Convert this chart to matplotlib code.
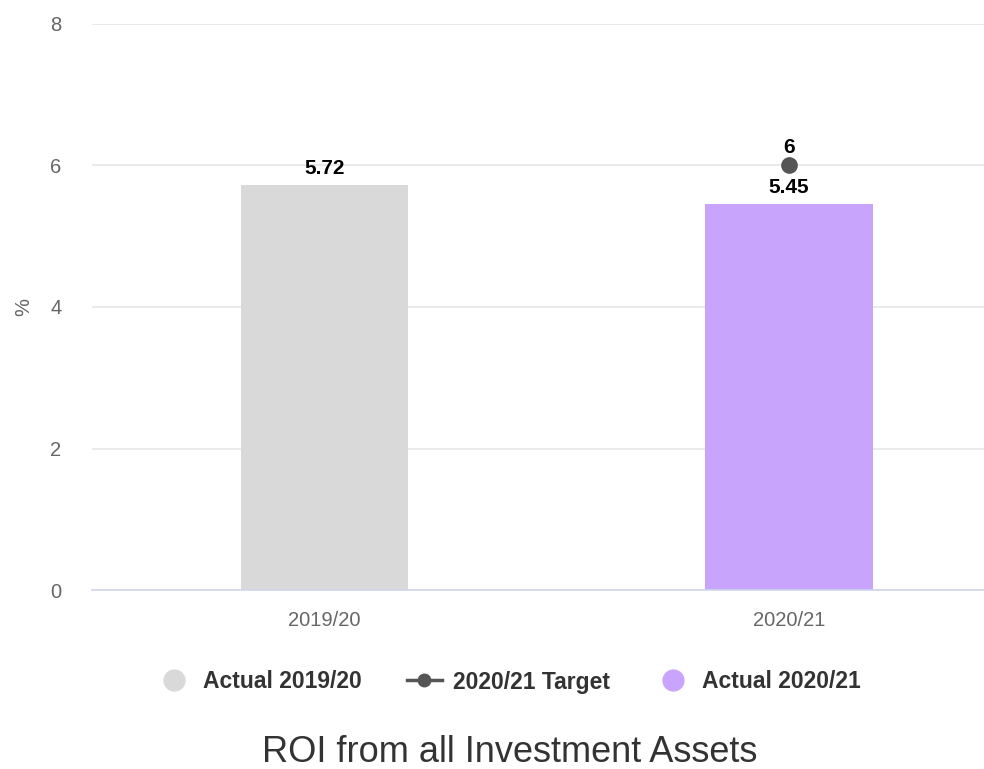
import matplotlib
matplotlib.use("Agg")
import matplotlib.pyplot as plt
from matplotlib.lines import Line2D

plt.rcParams['font.family'] = ['Liberation Sans', 'DejaVu Sans']

categories = ["2019/20", "2020/21"]
actual_values = [5.72, 5.45]
bar_colors = ["#d9d9d9", "#c9a4fc"]
series_names = ["Actual 2019/20", "2020/21 Target", "Actual 2020/21"]
target_value = 6
yticks = [0, 2, 4, 6, 8]

W, H = 984, 769
fig = plt.figure(figsize=(W / 100, H / 100), dpi=100)
ax = fig.add_axes([92 / W, (H - 590) / H, (984 - 92) / W, (590 - 24) / H])

x = list(range(len(categories)))
ax.bar(x, actual_values, width=0.36, color=bar_colors, zorder=2)
for xi, v in zip(x, actual_values):
    ax.annotate(f"{v:g}", (xi, v), xytext=(0, 5), textcoords="offset points",
                ha="center", va="bottom", fontsize=15, fontweight="bold", color="#000000")

ax.plot([1], [target_value], marker="o", markersize=11, color="#555555", linestyle="none", zorder=3)
ax.annotate(f"{target_value:g}", (1, target_value), xytext=(0, 6), textcoords="offset points",
            ha="center", va="bottom", fontsize=15, fontweight="bold", color="#000000")

ax.set_xlim(-0.5, 1.42)
ax.set_ylim(0, 8)
ax.set_yticks(yticks)
ax.set_xticks(x)
ax.set_xticklabels(categories)
ax.grid(axis="y", color="#e6e6e6", linewidth=1.2, zorder=0)
ax.set_axisbelow(True)
for s in ["top", "right", "left"]:
    ax.spines[s].set_visible(False)
ax.spines["bottom"].set_color("#ccd6eb")
ax.spines["bottom"].set_linewidth(1.2)
ax.tick_params(axis="both", length=0, colors="#666666", labelsize=14.5)
ax.tick_params(axis="y", pad=22)
ax.tick_params(axis="x", pad=15)
ax.set_ylabel("%", color="#666666", fontsize=14.5, labelpad=12)

handles = [
    Line2D([], [], marker="o", linestyle="none", markersize=15, color=bar_colors[0]),
    Line2D([], [], marker="o", linestyle="-", markersize=9, linewidth=2.5, color="#555555"),
    Line2D([], [], marker="o", linestyle="none", markersize=15, color=bar_colors[1]),
]
leg = fig.legend(handles, series_names, loc="center", bbox_to_anchor=(0.517, 1 - 682 / H), ncol=3,
                 frameon=False, prop={"size": 16.5, "weight": "bold"}, handlelength=1.5,
                 columnspacing=2.0, handletextpad=0.5)
for t in leg.get_texts():
    t.set_color("#333333")

fig.text(0.518, 1 - 753 / H, "ROI from all Investment Assets", ha="center", va="center",
         fontsize=26, color="#333333")

fig.savefig("out.png", dpi=100)
